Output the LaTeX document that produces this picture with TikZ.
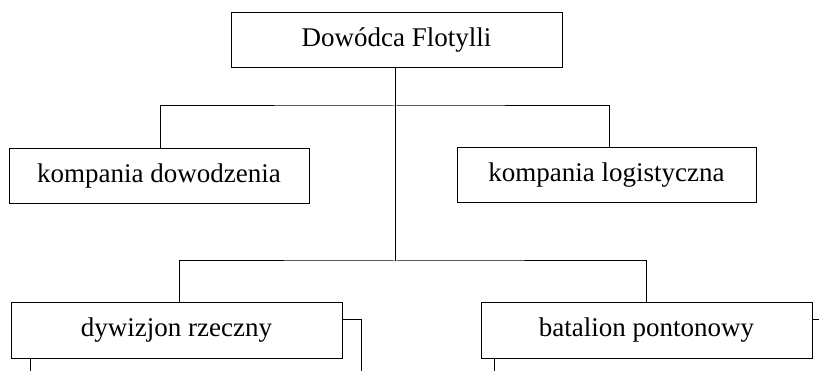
\documentclass[tikz,border=0pt]{standalone}
\usepackage{fontspec}
\setmainfont{Liberation Serif}
\usepackage{tikz}
\tikzset{
  unit/.style={draw, line width=1pt, minimum height=55pt, inner sep=0pt,
    font=\fontsize{27}{30}\selectfont},
  link/.style={line width=1pt}
}

\begin{document}
\begin{tikzpicture}[x=1pt,y=-1pt]
  \useasboundingbox (0,0) rectangle (819,371);
  \begin{scope}
    % units
    \node[unit, minimum width=331pt] (dowodca) at (396.5,40) {Dowódca Flotylli};
    \node[unit, minimum width=300pt] (kdow) at (159,176) {kompania dowodzenia};
    \node[unit, minimum width=299pt] (klog) at (606.5,175) {kompania logistyczna};
    \node[unit, minimum width=331pt] (dywizjon) at (176.5,330.5) {dywizjon rzeczny};
    \node[unit, minimum width=331pt] (batalion) at (646.5,330.5) {batalion pontonowy};
    % branch points
    \coordinate (b1) at (395,106);
    \coordinate (b2) at (395,261);
    \coordinate (dyw-r) at (361,371);
    \coordinate (dyw-d) at (30,371);
    \coordinate (bat-r) at (819,319);
    \coordinate (bat-d) at (494,371);
    % links
    \draw[link] (dowodca.south -| b1) -- (b2);
    \draw[link] (kdow.north -| 160,0) |- (b1) -| (klog.north -| 609,0);
    \draw[link] (dywizjon.north -| 179,0) |- (b2) -| (batalion.north -| 646,0);
    \draw[link] (dywizjon.east |- 0,319) -| (dyw-r);
    \draw[link] (dywizjon.south -| dyw-d) -- (dyw-d);
    \draw[link] (batalion.east |- bat-r) -- (bat-r);
    \draw[link] (batalion.south -| bat-d) -- (bat-d);
  \end{scope}
\end{tikzpicture}
\end{document}
